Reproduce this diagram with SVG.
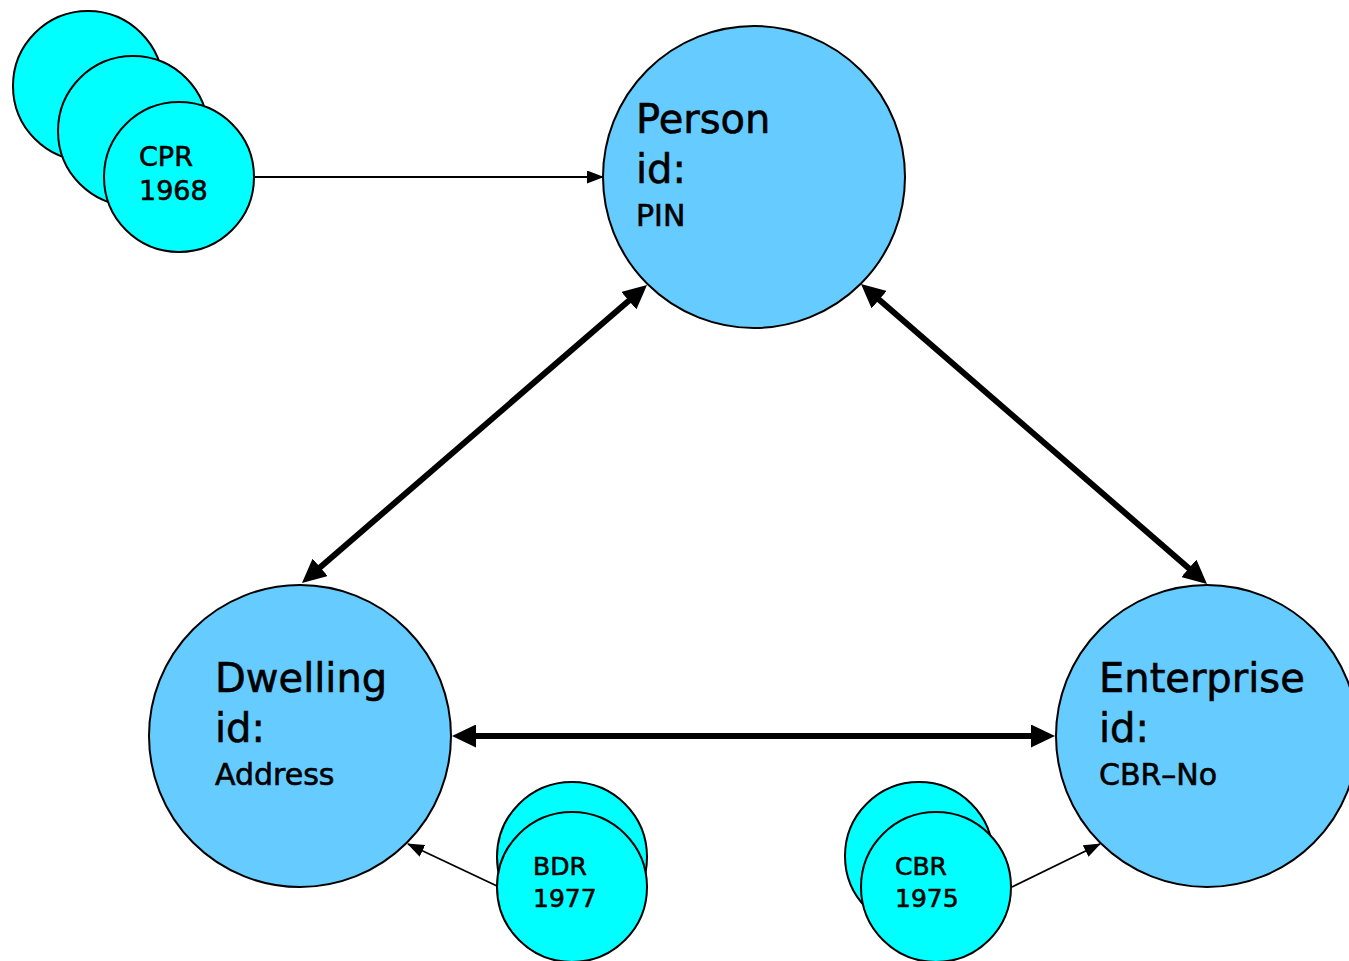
<svg xmlns="http://www.w3.org/2000/svg" width="1349" height="961" viewBox="0 0 1349 961">
<style>
.big{fill:#66CCFF;stroke:#000;stroke-width:2}
.reg{fill:#00FFFF;stroke:#000;stroke-width:2}
text{font-family:"DejaVu Sans","Liberation Sans",sans-serif;fill:#000;stroke:#000;stroke-width:0.6}
.t1{font-size:40px}
.t2{font-size:30px}
.t3{font-size:27px}
.t4{font-size:25px}
.thick{stroke:#000;stroke-width:6;fill:none;marker-start:url(#hb);marker-end:url(#hb)}
.thin{stroke:#000;stroke-width:1.8;fill:none;marker-end:url(#hs)}
</style>
<defs>
<marker id="hb" markerUnits="userSpaceOnUse" markerWidth="24" markerHeight="23" refX="6" refY="11.5" orient="auto-start-reverse" viewBox="0 0 24 23">
<path d="M0,0 L24,11.5 L0,23 z" fill="#000"/>
</marker>
<marker id="hs" markerUnits="userSpaceOnUse" markerWidth="17" markerHeight="13" refX="16" refY="6.5" orient="auto" viewBox="0 0 17 13">
<path d="M0,0 L17,6.5 L0,13 z" fill="#000"/>
</marker>
</defs>
<g id="person">
<circle class="big" cx="754" cy="177" r="151"/>
<text class="t1" x="636" y="133">Person</text>
<text class="t1" x="636" y="183">id:</text>
<text class="t2" x="636" y="226">PIN</text>
</g>
<g id="dwelling">
<circle class="big" cx="300" cy="736" r="151"/>
<text class="t1" x="215" y="692">Dwelling</text>
<text class="t1" x="215" y="742">id:</text>
<text class="t2" x="215" y="785">Address</text>
</g>
<g id="enterprise">
<circle class="big" cx="1207" cy="736" r="151"/>
<text class="t1" x="1099" y="692">Enterprise</text>
<text class="t1" x="1099" y="742">id:</text>
<text class="t2" x="1099" y="785">CBR–No</text>
</g>
<g id="cpr">
<circle class="reg" cx="88" cy="86" r="75"/>
<circle class="reg" cx="133" cy="131" r="75"/>
<circle class="reg" cx="179" cy="177" r="75"/>
<text class="t3" x="139" y="166">CPR</text>
<text class="t3" x="139" y="200">1968</text>
</g>
<g id="bdr">
<circle class="reg" cx="572" cy="857" r="75"/>
<circle class="reg" cx="572" cy="887" r="75"/>
<text class="t4" x="533" y="875">BDR</text>
<text class="t4" x="533" y="907">1977</text>
</g>
<g id="cbr">
<circle class="reg" cx="919" cy="856" r="74"/>
<circle class="reg" cx="936" cy="887" r="75"/>
<text class="t4" x="895" y="875">CBR</text>
<text class="t4" x="895" y="907">1975</text>
</g>
<g id="connectors">
<line class="thin" x1="255" y1="177" x2="603" y2="177"/>
<line class="thin" x1="497" y1="886" x2="408" y2="844"/>
<line class="thin" x1="1012" y1="887" x2="1100" y2="844"/>
<line class="thick" x1="633.4" y1="296.8" x2="315.6" y2="571.2"/>
<line class="thick" x1="874.6" y1="295.8" x2="1193.4" y2="572.2"/>
<line class="thick" x1="470" y1="736" x2="1037" y2="736"/>
</g>
</svg>
